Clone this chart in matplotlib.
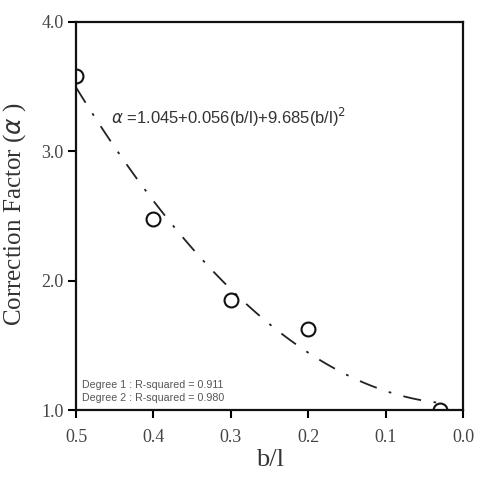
import matplotlib.pyplot as plt
import numpy as np

# measured points
b_l = [0.5, 0.4, 0.3, 0.2, 0.03]
alpha_vals = [3.58, 2.48, 1.85, 1.63, 1.0]

# quadratic fit coefficients shown on the chart
c0, c1, c2 = 1.045, 0.056, 9.685
r2_deg1 = 0.911
r2_deg2 = 0.980

fig = plt.figure(figsize=(4.79, 4.87), dpi=100)
ax = fig.add_axes([0.1587, 0.158, 0.808, 0.797])

xfit = np.linspace(0.5, 0.03, 100)
yfit = c0 + c1 * xfit + c2 * xfit ** 2
ax.plot(xfit, yfit, color='#222222', lw=1.3, linestyle=(0, (10, 7, 1.5, 7)))
ax.plot(b_l, alpha_vals, 'o', ms=10, mfc='none', mec='#111111', mew=1.5)

ax.set_xlim(0.5, 0.0)
ax.set_ylim(1.0, 4.0)
ax.set_xticks([0.5, 0.4, 0.3, 0.2, 0.1, 0.0])
ax.set_yticks([1.0, 2.0, 3.0, 4.0])
ax.set_xticklabels(['0.5', '0.4', '0.3', '0.2', '0.1', '0.0'])
ax.set_yticklabels(['1.0', '2.0', '3.0', '4.0'])

for s in ax.spines.values():
    s.set_linewidth(1.6)
    s.set_color('#111111')
ax.tick_params(direction='out', length=6, width=1.5, top=False, right=False,
               labelsize=13, labelcolor='#444444')
ax.tick_params(axis='x', pad=8)
ax.tick_params(axis='y', pad=3)
for lab in ax.get_xticklabels() + ax.get_yticklabels():
    lab.set_family('Liberation Serif')

ax.set_xlabel('b/l', family='Liberation Serif', fontsize=19, color='#333333', labelpad=2)
ax.set_ylabel(r'Correction Factor ($\mathit{\alpha}$ )', family='Liberation Serif',
              fontsize=18, color='#333333')
ax.yaxis.set_label_coords(-0.123, 0.505)

ax.text(0.455, 3.26, r'$\alpha$ =1.045+0.056(b/l)+9.685(b/l)$^2$', family='Liberation Sans',
        fontsize=12, color='#333333', va='center')
ax.text(0.492, 1.19, 'Degree 1 : R-squared = %.3f' % r2_deg1, family='Liberation Sans',
        fontsize=7.7, color='#555555', va='center')
ax.text(0.492, 1.095, 'Degree 2 : R-squared = %.3f' % r2_deg2, family='Liberation Sans',
        fontsize=7.7, color='#555555', va='center')

plt.savefig('out.png', dpi=100)
